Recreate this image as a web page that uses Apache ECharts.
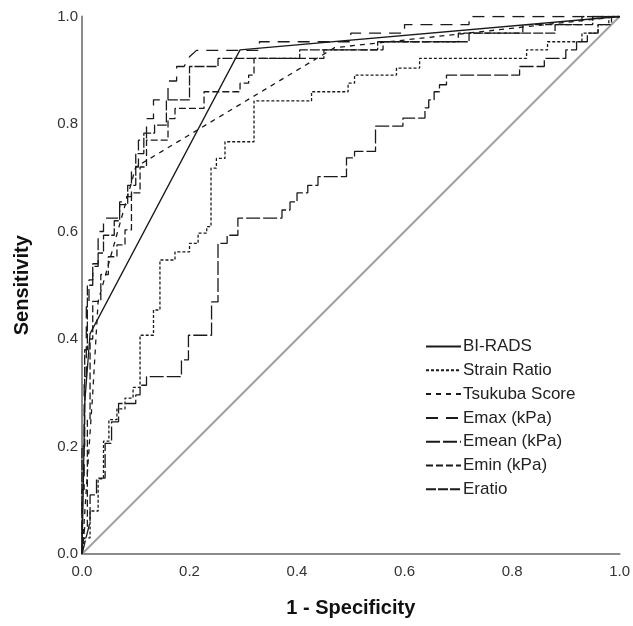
<!DOCTYPE html>
<html lang="en">
<head>
    <meta charset="UTF-8">
    <title>ROC curves</title>
    <script src="https://cdn.jsdelivr.net/npm/echarts@6/dist/echarts.min.js"></script>
    <style>
        html, body { margin: 0; padding: 0; background: #fff; }
        #chart { width: 633px; height: 626px; }
    </style>
</head>
<body>
    <div id="chart"></div>
    <script>
        // ROC points [1 - specificity, sensitivity]
        var biRads = [[0, 0], [0.002, 0.1], [0.005, 0.28], [0.015, 0.41], [0.294, 0.938], [1, 1]];

        var strainRatio = [[0, 0], [0.005, 0.03], [0.015, 0.03], [0.015, 0.08], [0.03, 0.08], [0.03, 0.14],
            [0.04, 0.14], [0.04, 0.21], [0.05, 0.21], [0.05, 0.25], [0.065, 0.25], [0.065, 0.27], [0.08, 0.27],
            [0.08, 0.29], [0.095, 0.29], [0.095, 0.31], [0.108, 0.31], [0.108, 0.407], [0.133, 0.407],
            [0.133, 0.454], [0.145, 0.454], [0.145, 0.547], [0.173, 0.547], [0.173, 0.562], [0.2, 0.562],
            [0.2, 0.578], [0.216, 0.578], [0.216, 0.597], [0.232, 0.597], [0.232, 0.609], [0.24, 0.609],
            [0.24, 0.718], [0.25, 0.718], [0.25, 0.736], [0.266, 0.736], [0.266, 0.767], [0.32, 0.767],
            [0.32, 0.843], [0.427, 0.843], [0.427, 0.86], [0.495, 0.86], [0.495, 0.876], [0.507, 0.876],
            [0.507, 0.891], [0.585, 0.891], [0.585, 0.904], [0.628, 0.904], [0.628, 0.922], [0.827, 0.922],
            [0.827, 0.938], [0.866, 0.938], [0.866, 0.953], [0.93, 0.953], [0.93, 0.969], [0.96, 0.969],
            [0.96, 0.985], [0.98, 0.985], [0.98, 1], [1, 1]];

        var tsukuba = [[0, 0], [0.02, 0.3], [0.03, 0.47], [0.1, 0.72], [0.47, 0.942], [1, 1]];

        var emax = [[0, 0], [0, 0.12], [0.004, 0.12], [0.004, 0.33], [0.008, 0.33], [0.008, 0.46],
            [0.013, 0.46], [0.013, 0.51], [0.02, 0.51], [0.02, 0.54], [0.03, 0.54], [0.03, 0.6], [0.04, 0.6],
            [0.04, 0.625], [0.07, 0.625], [0.07, 0.655], [0.083, 0.655], [0.083, 0.665], [0.092, 0.665],
            [0.092, 0.72], [0.105, 0.72], [0.105, 0.77], [0.12, 0.77], [0.12, 0.81], [0.133, 0.81],
            [0.133, 0.845], [0.16, 0.845], [0.16, 0.88], [0.176, 0.88], [0.176, 0.907], [0.19, 0.907],
            [0.2, 0.925], [0.213, 0.937], [0.33, 0.937], [0.33, 0.953], [0.5, 0.953], [0.5, 0.969],
            [0.6, 0.969], [0.6, 0.985], [0.72, 0.985], [0.72, 1], [1, 1]];

        var emean = [[0, 0], [0.005, 0.02], [0.015, 0.06], [0.015, 0.11], [0.027, 0.11], [0.027, 0.141],
            [0.043, 0.141], [0.043, 0.206], [0.055, 0.206], [0.055, 0.246], [0.068, 0.246], [0.068, 0.28],
            [0.1, 0.28], [0.1, 0.296], [0.108, 0.296], [0.108, 0.314], [0.12, 0.314], [0.12, 0.33],
            [0.185, 0.33], [0.185, 0.361], [0.198, 0.361], [0.198, 0.407], [0.241, 0.407], [0.241, 0.469],
            [0.253, 0.469], [0.253, 0.578], [0.27, 0.578], [0.27, 0.593], [0.29, 0.593], [0.29, 0.625],
            [0.372, 0.625], [0.372, 0.64], [0.387, 0.64], [0.387, 0.655], [0.4, 0.655], [0.4, 0.672],
            [0.42, 0.672], [0.42, 0.686], [0.439, 0.686], [0.439, 0.702], [0.492, 0.702], [0.492, 0.737],
            [0.507, 0.737], [0.507, 0.749], [0.546, 0.749], [0.546, 0.796], [0.597, 0.796], [0.597, 0.811],
            [0.638, 0.811], [0.638, 0.83], [0.645, 0.83], [0.645, 0.845], [0.655, 0.845], [0.655, 0.86],
            [0.665, 0.86], [0.665, 0.873], [0.678, 0.873], [0.678, 0.891], [0.814, 0.891], [0.814, 0.907],
            [0.86, 0.907], [0.86, 0.922], [0.9, 0.922], [0.9, 0.938], [0.92, 0.938], [0.92, 0.953],
            [0.94, 0.953], [0.94, 0.969], [0.96, 0.969], [0.96, 0.985], [0.985, 0.985], [0.985, 1], [1, 1]];

        var emin = [[0, 0], [0.005, 0.05], [0.01, 0.05], [0.01, 0.25], [0.015, 0.25], [0.015, 0.4],
            [0.02, 0.4], [0.02, 0.47], [0.035, 0.47], [0.035, 0.52], [0.049, 0.52], [0.049, 0.553],
            [0.065, 0.553], [0.065, 0.575], [0.08, 0.575], [0.08, 0.603], [0.092, 0.603], [0.092, 0.672],
            [0.108, 0.672], [0.108, 0.72], [0.12, 0.72], [0.12, 0.77], [0.16, 0.77], [0.16, 0.81],
            [0.173, 0.81], [0.173, 0.829], [0.227, 0.829], [0.227, 0.86], [0.294, 0.86], [0.294, 0.876],
            [0.31, 0.876], [0.31, 0.891], [0.32, 0.891], [0.32, 0.922], [0.45, 0.922], [0.45, 0.938],
            [0.56, 0.938], [0.56, 0.953], [0.7, 0.953], [0.7, 0.969], [0.82, 0.969], [0.82, 0.985],
            [0.93, 0.985], [0.93, 1], [1, 1]];

        var eratio = [[0, 0], [0, 0.2], [0.005, 0.2], [0.005, 0.38], [0.01, 0.38], [0.01, 0.5], [0.02, 0.5],
            [0.02, 0.535], [0.03, 0.535], [0.03, 0.56], [0.04, 0.56], [0.04, 0.593], [0.06, 0.593],
            [0.06, 0.62], [0.07, 0.62], [0.07, 0.65], [0.085, 0.65], [0.085, 0.686], [0.1, 0.686],
            [0.1, 0.745], [0.115, 0.745], [0.115, 0.783], [0.135, 0.783], [0.135, 0.798], [0.157, 0.798],
            [0.157, 0.845], [0.2, 0.845], [0.2, 0.907], [0.253, 0.907], [0.253, 0.922], [0.405, 0.922],
            [0.405, 0.938], [0.55, 0.938], [0.55, 0.953], [0.72, 0.953], [0.72, 0.969], [0.88, 0.969],
            [0.88, 0.985], [0.95, 0.985], [0.95, 1], [1, 1]];

        var diagonal = [[0, 0], [1, 1]];

        var seriesNames = ['BI-RADS', 'Strain Ratio', 'Tsukuba Score', 'Emax (kPa)', 'Emean (kPa)', 'Emin (kPa)', 'Eratio'];
        var seriesData = [biRads, strainRatio, tsukuba, emax, emean, emin, eratio];
        var dashes = ['solid', [3, 2], [5, 5], [12, 8], [14, 3], [7, 3], [10, 2]];

        var font = 'Liberation Sans, Arial, sans-serif';

        var series = [];
        for (var i = 0; i < seriesNames.length; i++) {
            series.push({
                name: seriesNames[i],
                type: 'line',
                data: seriesData[i],
                symbol: 'none',
                lineStyle: { color: '#1a1a1a', width: 1.3, type: dashes[i] },
                itemStyle: { color: '#1a1a1a' },
                z: 3
            });
        }
        series.push({
            name: 'ref',
            type: 'line',
            data: diagonal,
            symbol: 'none',
            lineStyle: { color: '#a0a0a0', width: 2 },
            z: 2
        });

        var chart = echarts.init(document.getElementById('chart'));
        var option = {
            animation: false,
            backgroundColor: '#fff',
            grid: { left: 82, right: 13, top: 16.5, bottom: 72, containLabel: false },
            legend: {
                data: seriesNames,
                orient: 'vertical',
                left: 420,
                top: 333,
                itemWidth: 35,
                itemHeight: 14,
                itemGap: 6.8,
                itemStyle: { opacity: 0 },
                textStyle: { fontFamily: font, fontSize: 17, color: '#222', padding: [0, 0, 0, -3] }
            },
            xAxis: {
                type: 'value',
                min: 0,
                max: 1,
                interval: 0.2,
                name: '1 - Specificity',
                nameLocation: 'middle',
                nameGap: 44,
                nameTextStyle: { fontFamily: font, fontSize: 20, fontWeight: 'bold', color: '#111' },
                axisLine: { show: true, lineStyle: { color: '#8c8c8c', width: 2 } },
                axisTick: { show: false },
                splitLine: { show: false },
                axisLabel: {
                    fontFamily: font, fontSize: 15, color: '#333', margin: 10,
                    formatter: function (v) { return v.toFixed(1); }
                }
            },
            yAxis: {
                type: 'value',
                min: 0,
                max: 1,
                interval: 0.2,
                name: 'Sensitivity',
                nameLocation: 'middle',
                nameGap: 50,
                nameTextStyle: { fontFamily: font, fontSize: 20, fontWeight: 'bold', color: '#111' },
                axisLine: { show: true, lineStyle: { color: '#8c8c8c', width: 2 } },
                axisTick: { show: false },
                splitLine: { show: false },
                axisLabel: {
                    fontFamily: font, fontSize: 15, color: '#333', margin: 4,
                    formatter: function (v) { return v.toFixed(1); }
                }
            },
            series: series
        };
        chart.setOption(option);
    </script>
</body>
</html>
